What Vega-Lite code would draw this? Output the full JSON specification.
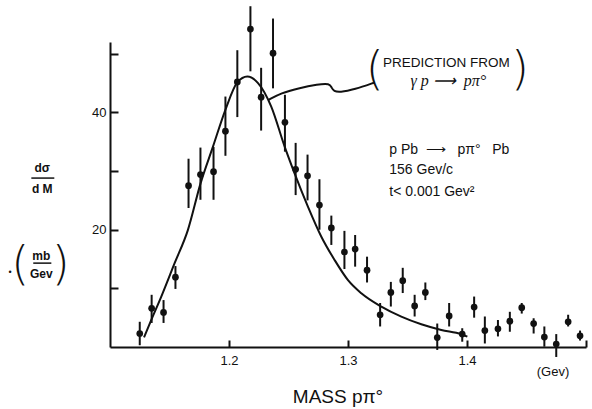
{
  "$schema": "https://vega.github.io/schema/vega-lite/v6.json",
  "width": 476,
  "height": 305,
  "autosize": {"type": "none"},
  "padding": {"left": 110, "top": 42, "right": 6, "bottom": 62},
  "background": "white",
  "config": {
    "view": {"stroke": null},
    "font": "Liberation Sans",
    "axis": {"domainColor": "#111", "domainWidth": 2, "tickColor": "#111", "tickWidth": 2, "labelColor": "#111", "labelFont": "Liberation Sans", "labelFontSize": 13, "grid": false, "title": null}
  },
  "datasets": {
    "pts": [
      {"m": 1.125, "v": 2.3, "lo": 0.3, "hi": 4.3},
      {"m": 1.135, "v": 6.6, "lo": 4.1, "hi": 8.9},
      {"m": 1.145, "v": 5.9, "lo": 4.1, "hi": 8.0},
      {"m": 1.155, "v": 11.9, "lo": 9.9, "hi": 13.8},
      {"m": 1.166, "v": 27.5, "lo": 23.7, "hi": 32.1},
      {"m": 1.176, "v": 29.4, "lo": 25.1, "hi": 34.0},
      {"m": 1.187, "v": 29.9, "lo": 25.1, "hi": 34.1},
      {"m": 1.197, "v": 36.8, "lo": 32.6, "hi": 42.7},
      {"m": 1.207, "v": 45.2, "lo": 39.2, "hi": 50.6},
      {"m": 1.218, "v": 54.2, "lo": 47.0, "hi": 58.1},
      {"m": 1.227, "v": 42.6, "lo": 36.9, "hi": 47.6},
      {"m": 1.237, "v": 50.1, "lo": 44.1, "hi": 56.0},
      {"m": 1.247, "v": 38.3, "lo": 33.3, "hi": 43.0},
      {"m": 1.256, "v": 30.3, "lo": 25.9, "hi": 34.8},
      {"m": 1.266, "v": 29.2, "lo": 25.0, "hi": 32.8},
      {"m": 1.276, "v": 24.2, "lo": 20.0, "hi": 28.6},
      {"m": 1.286, "v": 20.3, "lo": 17.4, "hi": 22.4},
      {"m": 1.297, "v": 16.2, "lo": 13.3, "hi": 19.8},
      {"m": 1.306, "v": 16.7, "lo": 13.7, "hi": 19.1},
      {"m": 1.316, "v": 13.1, "lo": 11.0, "hi": 15.4},
      {"m": 1.327, "v": 5.5, "lo": 3.5, "hi": 7.5},
      {"m": 1.336, "v": 9.3, "lo": 6.9, "hi": 11.1},
      {"m": 1.346, "v": 11.3, "lo": 9.2, "hi": 13.5},
      {"m": 1.356, "v": 7.0, "lo": 5.2, "hi": 8.9},
      {"m": 1.365, "v": 9.3, "lo": 8.0, "hi": 11.0},
      {"m": 1.375, "v": 1.6, "lo": -0.5, "hi": 4.0},
      {"m": 1.385, "v": 5.3, "lo": 3.5, "hi": 7.5},
      {"m": 1.396, "v": 2.2, "lo": 0.9, "hi": 3.2},
      {"m": 1.406, "v": 6.8, "lo": 5.0, "hi": 8.6},
      {"m": 1.415, "v": 2.8, "lo": 0.6, "hi": 5.2},
      {"m": 1.426, "v": 3.1, "lo": 1.8, "hi": 4.6},
      {"m": 1.436, "v": 4.4, "lo": 2.6, "hi": 6.0},
      {"m": 1.446, "v": 6.7, "lo": 5.7, "hi": 7.5},
      {"m": 1.456, "v": 4.0, "lo": 2.3, "hi": 4.9},
      {"m": 1.465, "v": 1.7, "lo": 0.05, "hi": 3.5},
      {"m": 1.475, "v": 0.5, "lo": -1.7, "hi": 2.2},
      {"m": 1.485, "v": 4.3, "lo": 3.5, "hi": 5.5},
      {"m": 1.495, "v": 1.9, "lo": 1.1, "hi": 2.8}
    ],
    "curve": [
      {"m": 1.1286, "v": 1.66},
      {"m": 1.1347, "v": 4.61},
      {"m": 1.1431, "v": 8.58},
      {"m": 1.1543, "v": 14.28},
      {"m": 1.1655, "v": 19.97},
      {"m": 1.1761, "v": 27.9},
      {"m": 1.1866, "v": 34.2},
      {"m": 1.1969, "v": 40.4},
      {"m": 1.207, "v": 45.1},
      {"m": 1.2154, "v": 46.1},
      {"m": 1.2244, "v": 45.0},
      {"m": 1.2355, "v": 41.0},
      {"m": 1.2467, "v": 34.2},
      {"m": 1.2551, "v": 29.6},
      {"m": 1.2664, "v": 23.9},
      {"m": 1.2776, "v": 18.8},
      {"m": 1.2887, "v": 14.85},
      {"m": 1.3, "v": 11.4},
      {"m": 1.3112, "v": 9.16},
      {"m": 1.328, "v": 6.88},
      {"m": 1.3448, "v": 5.17},
      {"m": 1.3616, "v": 3.87},
      {"m": 1.3784, "v": 2.9},
      {"m": 1.3952, "v": 2.17},
      {"m": 1.4003, "v": 1.76}
    ],
    "leader": [
      {"o": 1, "m": 1.2333, "v": 42.15},
      {"o": 2, "m": 1.2439, "v": 43.3},
      {"o": 3, "m": 1.258, "v": 44.1},
      {"o": 4, "m": 1.2748, "v": 44.8},
      {"o": 5, "m": 1.2846, "v": 44.95},
      {"o": 6, "m": 1.2862, "v": 44.2},
      {"o": 7, "m": 1.2882, "v": 43.6},
      {"o": 8, "m": 1.2929, "v": 43.4},
      {"o": 9, "m": 1.3055, "v": 43.9},
      {"o": 10, "m": 1.3224, "v": 45.1}
    ],
    "notes": [
      {"m": 1.3347, "v": 33.6, "t": "p Pb \u00a0\u27f6\u00a0\u00a0 p\u03c0\u00b0 \u00a0\u00a0Pb"},
      {"m": 1.3347, "v": 30.2, "t": "156 Gev/c"},
      {"m": 1.3347, "v": 26.5, "t": "t< 0.001 Gev\u00b2"}
    ],
    "head": [
      {"m": 1.3826, "v": 48.4, "t": "PREDICTION FROM"}
    ],
    "react": [
      {"m": 1.3843, "v": 45.4, "t": "\u03b3 p \u27f6 \u00a0p\u03c0\u00b0"}
    ],
    "parens": [
      {"m": 1.3225, "v": 47.3, "t": "("},
      {"m": 1.4445, "v": 47.3, "t": ")"}
    ],
    "parens2": [
      {"m": 1.0245, "v": 14.0, "t": "("},
      {"m": 1.0585, "v": 14.0, "t": ")"}
    ],
    "ylab": [
      {"m": 1.0431, "v": 30.5, "t": "d\u03c3"},
      {"m": 1.0431, "v": 27.0, "t": "d M"},
      {"m": 1.0423, "v": 15.6, "t": "mb"},
      {"m": 1.0423, "v": 12.46, "t": "Gev"}
    ],
    "dot": [
      {"m": 1.016, "v": 12.8, "t": "\u2022"}
    ],
    "bars": [
      {"m": 1.0339, "m2": 1.0532, "v": 28.8},
      {"m": 1.0355, "m2": 1.0507, "v": 14.3}
    ],
    "xlab": [
      {"m": 1.2916, "v": -8.5, "t": "MASS p\u03c0\u00b0"}
    ],
    "unit": [
      {"m": 1.4723, "v": -4.2, "t": "(Gev)"}
    ]
  },
  "layer": [
    {
      "data": {"name": "pts"},
      "mark": {"type": "rule", "color": "#111", "strokeWidth": 2},
      "encoding": {
        "x": {"field": "m", "type": "quantitative", "scale": {"domain": [1.1, 1.5], "nice": false, "zero": false},
          "axis": {"values": [1.2, 1.3, 1.4, 1.5], "tickSize": -7, "labelPadding": 14, "labelExpr": "datum.value < 1.45 ? datum.label : ''", "format": ".1f"}},
        "y": {"field": "lo", "type": "quantitative", "scale": {"domain": [0, 52], "nice": false, "zero": false},
          "axis": {"values": [10, 20, 30, 40, 50], "tickSize": -8, "labelPadding": 12, "labelExpr": "(datum.value == 20 || datum.value == 40) ? datum.label : ''"}},
        "y2": {"field": "hi"}
      }
    },
    {
      "data": {"name": "pts"},
      "mark": {"type": "point", "filled": true, "color": "#111", "size": 45, "opacity": 1},
      "encoding": {
        "x": {"field": "m", "type": "quantitative"},
        "y": {"field": "v", "type": "quantitative"}
      }
    },
    {
      "data": {"name": "curve"},
      "mark": {"type": "line", "color": "#111", "strokeWidth": 2, "interpolate": "monotone"},
      "encoding": {
        "x": {"field": "m", "type": "quantitative"},
        "y": {"field": "v", "type": "quantitative"}
      }
    },
    {
      "data": {"name": "leader"},
      "mark": {"type": "line", "color": "#111", "strokeWidth": 2, "interpolate": "basis"},
      "encoding": {
        "x": {"field": "m", "type": "quantitative"},
        "y": {"field": "v", "type": "quantitative"},
        "order": {"field": "o"}
      }
    },
    {
      "data": {"name": "notes"},
      "mark": {"type": "text", "align": "left", "baseline": "middle", "fontSize": 14, "color": "#111", "font": "Liberation Sans"},
      "encoding": {
        "x": {"field": "m", "type": "quantitative"},
        "y": {"field": "v", "type": "quantitative"},
        "text": {"field": "t"}
      }
    },
    {
      "data": {"name": "head"},
      "mark": {"type": "text", "align": "center", "baseline": "middle", "fontSize": 13.5, "color": "#111", "font": "Liberation Sans"},
      "encoding": {
        "x": {"field": "m", "type": "quantitative"},
        "y": {"field": "v", "type": "quantitative"},
        "text": {"field": "t"}
      }
    },
    {
      "data": {"name": "react"},
      "mark": {"type": "text", "align": "center", "baseline": "middle", "fontSize": 16, "fontStyle": "italic", "color": "#111", "font": "Liberation Serif"},
      "encoding": {
        "x": {"field": "m", "type": "quantitative"},
        "y": {"field": "v", "type": "quantitative"},
        "text": {"field": "t"}
      }
    },
    {
      "data": {"name": "parens"},
      "mark": {"type": "text", "align": "center", "baseline": "middle", "fontSize": 46, "color": "#111", "font": "DejaVu Sans", "fontWeight": 200},
      "encoding": {
        "x": {"field": "m", "type": "quantitative"},
        "y": {"field": "v", "type": "quantitative"},
        "text": {"field": "t"}
      }
    },
    {
      "data": {"name": "parens2"},
      "mark": {"type": "text", "align": "center", "baseline": "middle", "fontSize": 46, "color": "#111", "font": "DejaVu Sans", "fontWeight": 200},
      "encoding": {
        "x": {"field": "m", "type": "quantitative"},
        "y": {"field": "v", "type": "quantitative"},
        "text": {"field": "t"}
      }
    },
    {
      "data": {"name": "ylab"},
      "mark": {"type": "text", "align": "center", "baseline": "middle", "fontSize": 12, "fontWeight": "bold", "color": "#111", "font": "Liberation Sans"},
      "encoding": {
        "x": {"field": "m", "type": "quantitative"},
        "y": {"field": "v", "type": "quantitative"},
        "text": {"field": "t"}
      }
    },
    {
      "data": {"name": "dot"},
      "mark": {"type": "text", "align": "center", "baseline": "middle", "fontSize": 9, "color": "#111", "font": "Liberation Sans"},
      "encoding": {
        "x": {"field": "m", "type": "quantitative"},
        "y": {"field": "v", "type": "quantitative"},
        "text": {"field": "t"}
      }
    },
    {
      "data": {"name": "bars"},
      "mark": {"type": "rule", "color": "#111", "strokeWidth": 1.5},
      "encoding": {
        "x": {"field": "m", "type": "quantitative"},
        "x2": {"field": "m2"},
        "y": {"field": "v", "type": "quantitative"}
      }
    },
    {
      "data": {"name": "xlab"},
      "mark": {"type": "text", "align": "center", "baseline": "middle", "fontSize": 19, "color": "#111", "font": "Liberation Sans"},
      "encoding": {
        "x": {"field": "m", "type": "quantitative"},
        "y": {"field": "v", "type": "quantitative"},
        "text": {"field": "t"}
      }
    },
    {
      "data": {"name": "unit"},
      "mark": {"type": "text", "align": "center", "baseline": "middle", "fontSize": 13, "color": "#111", "font": "Liberation Sans"},
      "encoding": {
        "x": {"field": "m", "type": "quantitative"},
        "y": {"field": "v", "type": "quantitative"},
        "text": {"field": "t"}
      }
    }
  ]
}
